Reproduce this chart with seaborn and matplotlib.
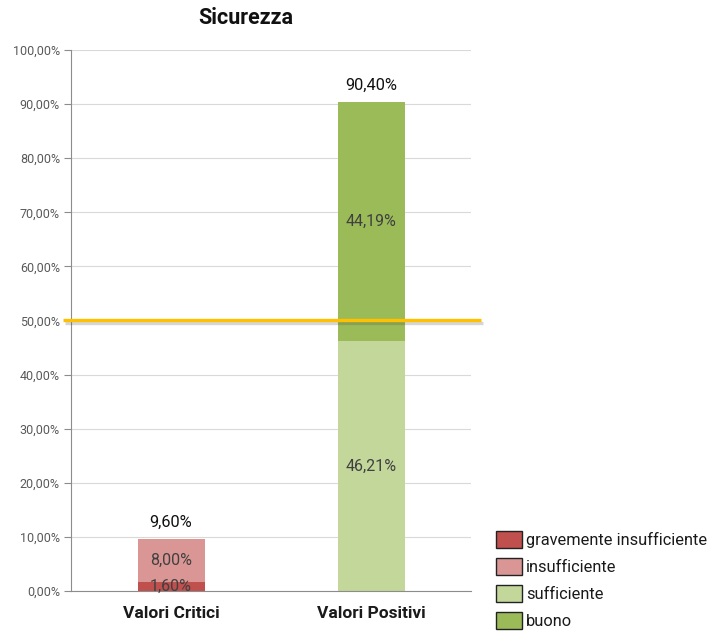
import matplotlib
matplotlib.use("Agg")
import matplotlib.pyplot as plt
import matplotlib.patheffects as pe
from matplotlib.patches import Patch
import seaborn as sns
import pandas as pd

# Data
categories = ["Valori Critici", "Valori Positivi"]
series_names = ["gravemente insufficiente", "insufficiente", "sufficiente", "buono"]
gravemente = [1.60, 0.0]
insufficiente = [8.00, 0.0]
sufficiente = [0.0, 46.21]
buono = [0.0, 44.19]
totals = [9.60, 90.40]
threshold = 50.0
colors = ["#C0504D", "#D99694", "#C4D79B", "#9BBB59"]

sns.set_theme(style="white")
plt.rcParams["font.family"] = ["Roboto", "DejaVu Sans"]

fig = plt.figure(figsize=(7.11, 6.32), dpi=100)
ax = fig.add_axes([0.0999, 0.0649, 0.5626, 0.856])

layers = [gravemente, insufficiente, sufficiente, buono]
bottom = [0.0, 0.0]
for name, vals, col in zip(series_names, layers, colors):
    df = pd.DataFrame({"cat": categories, "val": vals})
    sns.barplot(data=df, x="cat", y="val", color=col, bottom=bottom,
                width=0.335, ax=ax, saturation=1, zorder=2, edgecolor="none")
    for i, v in enumerate(vals):
        if v > 0:
            ax.text(i, bottom[i] + v / 2, f"{v:.2f}%".replace(".", ","),
                    ha="center", va="center", fontsize=11.5, color="#404040", zorder=5)
    bottom = [b + v for b, v in zip(bottom, vals)]

for i, t in enumerate(totals):
    ax.text(i, t + 1.7, f"{t:.2f}%".replace(".", ","), ha="center", va="bottom",
            fontsize=11.8, color="#111111", zorder=5)

# Threshold line
ax.plot([-0.54, 1.55], [threshold, threshold], color="#FFC000", lw=2.4,
        clip_on=False, zorder=6, solid_capstyle="butt",
        path_effects=[pe.SimpleLineShadow(offset=(1.2, -1.5), alpha=0.22, shadow_color="#444444"),
                      pe.Normal()])

ax.set_xlim(-0.5, 1.5)
ax.set_ylim(0, 100)
ax.set_yticks(range(0, 101, 10))
ax.set_yticklabels([f"{v},00%" for v in range(0, 101, 10)], fontsize=9, color="#595959")
ax.set_xticks([0, 1])
ax.set_xticklabels(categories, fontsize=12.5, fontweight="bold", color="#1a1a1a")
ax.set_xlabel("")
ax.set_ylabel("")
ax.yaxis.grid(True, color="#D9D9D9", lw=0.8, zorder=0)
ax.set_axisbelow(True)
for s in ["top", "right"]:
    ax.spines[s].set_visible(False)
ax.spines["left"].set_color("#8C8C8C")
ax.spines["left"].set_linewidth(0.8)
ax.spines["bottom"].set_color("#8C8C8C")
ax.spines["bottom"].set_linewidth(0.8)
ax.tick_params(axis="y", length=5, width=0.8, color="#8C8C8C", pad=3, left=True)
ax.tick_params(axis="x", length=0, pad=11)

fig.text(0.345, 1 - 18 / 632, "Sicurezza", ha="center", va="center",
         fontsize=15.5, fontweight="bold", color="#111111")

handles = [Patch(facecolor=c, edgecolor="#222222", lw=1.0) for c in colors]
fig.legend(handles, series_names, loc="lower left", bbox_to_anchor=(0.697, 0.004),
           frameon=False, fontsize=11.8, handlelength=1.6, handleheight=1.25,
           handletextpad=0.25, labelspacing=0.6, borderaxespad=0, borderpad=0,
           labelcolor="#1a1a1a")

fig.savefig("out.png", dpi=100)
